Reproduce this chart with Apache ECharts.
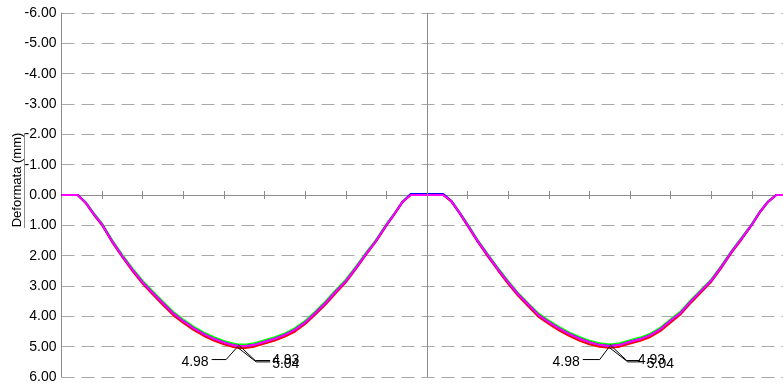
<!DOCTYPE html>
<html>
<head>
<meta charset="utf-8">
<script src="https://cdn.jsdelivr.net/npm/echarts@6/dist/echarts.min.js"></script>
<style>
  html, body { margin: 0; padding: 0; background: #fff; }
  #chart { width: 783px; height: 390px; }
</style>
</head>
<body>
<div id="chart"></div>
<script>
// Stations along the two-span beam (tick units, support at 0, 9, 18)
const stations = [
  0, 0.4, 0.6, 0.8, 1.0, 1.25, 1.5, 1.75, 2.0, 2.25, 2.5, 2.75, 3.0, 3.25, 3.5, 3.75, 4.0,
  4.2, 4.35, 4.55, 4.75, 5.0, 5.25, 5.5, 5.75, 6.0, 6.25, 6.5, 6.75, 7.0, 7.25, 7.5, 7.75, 8.0,
  8.2, 8.4, 8.6, 9.0,
  9.4, 9.6, 9.8, 10.0, 10.25, 10.5, 10.75, 11.0, 11.25, 11.5, 11.75, 12.0, 12.25, 12.5, 12.75,
  13.0, 13.25, 13.5, 13.75, 14.0, 14.25, 14.5, 14.75, 15.0, 15.25, 15.5, 15.75, 16.0, 16.25,
  16.5, 16.75, 17.0, 17.2, 17.4, 17.6, 18.0
];

// Deflection (mm), positive downwards
const deflGreen = [
  0, 0, 0.24, 0.61, 0.94, 1.49, 1.98, 2.43, 2.83, 3.18, 3.52, 3.85, 4.11, 4.34, 4.53, 4.69, 4.81,
  4.89, 4.93, 4.93, 4.89, 4.79, 4.69, 4.56, 4.39, 4.15, 3.84, 3.51, 3.14, 2.79, 2.36, 1.90, 1.47, 0.96,
  0.60, 0.21, 0, 0,
  0, 0.18, 0.56, 0.96, 1.49, 1.96, 2.41, 2.84, 3.24, 3.58, 3.91, 4.14, 4.35, 4.53, 4.68,
  4.80, 4.89, 4.93, 4.89, 4.79, 4.70, 4.57, 4.37, 4.10, 3.83, 3.46, 3.12, 2.78, 2.33,
  1.84, 1.40, 0.95, 0.53, 0.20, 0, 0
];
const deflRed = [
  0, 0, 0.27, 0.66, 1.00, 1.56, 2.05, 2.51, 2.93, 3.28, 3.63, 3.96, 4.22, 4.45, 4.64, 4.80, 4.92,
  5.00, 5.04, 5.04, 5.00, 4.90, 4.80, 4.67, 4.50, 4.25, 3.94, 3.61, 3.24, 2.88, 2.44, 1.97, 1.52, 1.01,
  0.63, 0.23, 0, 0,
  0, 0.22, 0.60, 1.02, 1.55, 2.03, 2.49, 2.93, 3.33, 3.68, 4.02, 4.25, 4.46, 4.64, 4.80,
  4.92, 5.00, 5.04, 5.00, 4.90, 4.81, 4.68, 4.48, 4.20, 3.93, 3.55, 3.21, 2.86, 2.40,
  1.90, 1.46, 0.99, 0.57, 0.23, 0, 0
];
const deflBlue = [
  0, 0, 0.26, 0.64, 0.97, 1.53, 2.02, 2.47, 2.88, 3.23, 3.57, 3.90, 4.16, 4.39, 4.58, 4.74, 4.86,
  4.94, 4.98, 4.98, 4.94, 4.84, 4.74, 4.61, 4.44, 4.20, 3.89, 3.56, 3.19, 2.84, 2.40, 1.94, 1.50, 0.99,
  0.62, 0.22, -0.03, -0.03,
  -0.03, 0.20, 0.58, 0.99, 1.52, 1.99, 2.45, 2.88, 3.28, 3.62, 3.96, 4.19, 4.40, 4.58, 4.73,
  4.85, 4.94, 4.98, 4.94, 4.84, 4.75, 4.62, 4.42, 4.14, 3.88, 3.50, 3.16, 2.82, 2.36,
  1.87, 1.43, 0.97, 0.55, 0.22, 0, 0
];
const deflMagenta = [
  0, 0, 0.26, 0.64, 0.97, 1.53, 2.02, 2.47, 2.88, 3.23, 3.57, 3.90, 4.16, 4.39, 4.58, 4.74, 4.86,
  4.94, 4.98, 4.98, 4.94, 4.84, 4.74, 4.61, 4.44, 4.20, 3.89, 3.56, 3.19, 2.84, 2.40, 1.94, 1.50, 0.99,
  0.62, 0.22, 0, 0,
  0, 0.20, 0.58, 0.99, 1.52, 1.99, 2.45, 2.88, 3.28, 3.62, 3.96, 4.19, 4.40, 4.58, 4.73,
  4.85, 4.94, 4.98, 4.94, 4.84, 4.75, 4.62, 4.42, 4.14, 3.88, 3.50, 3.16, 2.82, 2.36,
  1.87, 1.43, 0.97, 0.55, 0.22, 0, 0
];

const yTicks = [-6, -5, -4, -3, -2, -1, 0, 1, 2, 3, 4, 5, 6];
const supports = [0, 9, 18];

const FONT = '"Liberation Sans", Arial, sans-serif';

function pairs(values) {
  return stations.map((x, i) => [x, values[i]]);
}

// Peak deflection of a series inside each span: [station, value, span]
function spanPeaks(values) {
  const peaks = [];
  for (let s = 0; s < supports.length - 1; s++) {
    let best = -1;
    stations.forEach((x, i) => {
      if (x > supports[s] && x < supports[s + 1] && (best < 0 || values[i] > values[best])) best = i;
    });
    peaks.push([stations[best], values[best], s]);
  }
  return peaks;
}

// Leader geometry for the peak tags (pixel offsets from the peak)
const leaderLayouts = {
  magenta: [
    { elbow: [-12, 13.5], endX: -26.5, text: [-3, 2.5], align: 'right' },
    { elbow: [-10, 13.5], endX: -27, text: [-3, 2.5], align: 'right' }
  ],
  green: [
    { elbow: [17, 16], endX: 32, text: [2, 0], align: 'left' },
    { elbow: [17, 16], endX: 30, text: [-2, 0], align: 'left' }
  ],
  red: [
    { elbow: [18, 14], endX: 32, text: [2, 2.5], align: 'left' },
    { elbow: [18, 14], endX: 32, text: [5, 2.5], align: 'left' }
  ]
};
const tagKeys = ['magenta', 'green', 'red'];
const tagData = [];
[deflMagenta, deflGreen, deflRed].forEach((vals, k) => {
  spanPeaks(vals).forEach(p => tagData.push([p[0], p[1], p[2], k]));
});

function lineSeries(name, values, color, extra) {
  return Object.assign({
    name: name,
    type: 'line',
    data: pairs(values),
    showSymbol: false,
    symbol: 'none',
    lineStyle: { color: color, width: 2 },
    itemStyle: { color: color },
    silent: true,
    z: 3
  }, extra || {});
}

const chart = echarts.init(document.getElementById('chart'), null, { renderer: 'canvas' });

const xAxisCommon = {
  type: 'value',
  min: 0,
  max: 18,
  interval: 1,
  axisLine: { onZero: true, onZeroAxisIndex: 0, lineStyle: { color: '#8c8c8c', width: 1 } },
  axisTick: { show: true, length: 4, lineStyle: { color: '#8c8c8c', width: 1 } },
  axisLabel: { show: false },
  splitLine: { show: false }
};

chart.setOption({
  animation: false,
  backgroundColor: '#ffffff',
  grid: { left: 61.5, top: 13, bottom: 13, right: -9.5, containLabel: false, outerBoundsMode: 'none' },
  xAxis: [
    Object.assign({ position: 'bottom' }, xAxisCommon),
    Object.assign({ position: 'top' }, xAxisCommon)
  ],
  yAxis: {
    type: 'value',
    inverse: true,
    min: yTicks[0],
    max: yTicks[yTicks.length - 1],
    interval: 1,
    name: 'Deformata (mm)',
    nameLocation: 'middle',
    nameGap: 38,
    nameMoveOverlap: false,
    nameTextStyle: { fontFamily: FONT, fontSize: 13, color: '#000', padding: [0, 0, 0, 30] },
    axisLine: { show: true, lineStyle: { color: '#8c8c8c', width: 1 } },
    axisTick: { show: false },
    axisLabel: {
      fontFamily: FONT, fontSize: 14, color: '#000', margin: 5,
      formatter: v => v.toFixed(2)
    },
    splitLine: { show: true, lineStyle: { color: '#a8a8a8', width: 1.2, type: [13, 7] } }
  },
  graphic: [
    // underline of the axis title
    { type: 'line', shape: { x1: 24.5, y1: 133, x2: 24.5, y2: 228 }, style: { stroke: '#8c8c8c', lineWidth: 1 }, silent: true }
  ],
  series: [
    lineSeries('green', deflGreen, '#00ff00', {
      markLine: {
        silent: true,
        symbol: 'none',
        label: { show: false },
        lineStyle: { color: '#8c8c8c', width: 1, type: 'solid' },
        data: [{ xAxis: supports[1] }]
      }
    }),
    lineSeries('red', deflRed, '#ff0000'),
    lineSeries('blue', deflBlue, '#0000ff'),
    lineSeries('magenta', deflMagenta, '#ff00ff'),
    {
      type: 'custom',
      name: 'tags',
      data: tagData,
      clip: false,
      silent: true,
      z: 5,
      encode: { x: 0, y: 1 },
      renderItem: function (params, api) {
        const p = api.coord([api.value(0), api.value(1)]);
        const lay = leaderLayouts[tagKeys[api.value(3)]][api.value(2)];
        const elbow = [p[0] + lay.elbow[0], p[1] + lay.elbow[1]];
        const end = [p[0] + lay.endX, elbow[1]];
        return {
          type: 'group',
          children: [
            {
              type: 'polyline',
              shape: { points: [p, elbow, end] },
              style: { stroke: '#000', lineWidth: 1, fill: null }
            },
            {
              type: 'text',
              x: end[0] + lay.text[0],
              y: end[1] + lay.text[1],
              style: {
                text: api.value(1).toFixed(2),
                fill: '#000',
                font: '14px ' + FONT,
                align: lay.align,
                verticalAlign: 'middle'
              }
            }
          ]
        };
      }
    }
  ]
});
</script>
</body>
</html>
